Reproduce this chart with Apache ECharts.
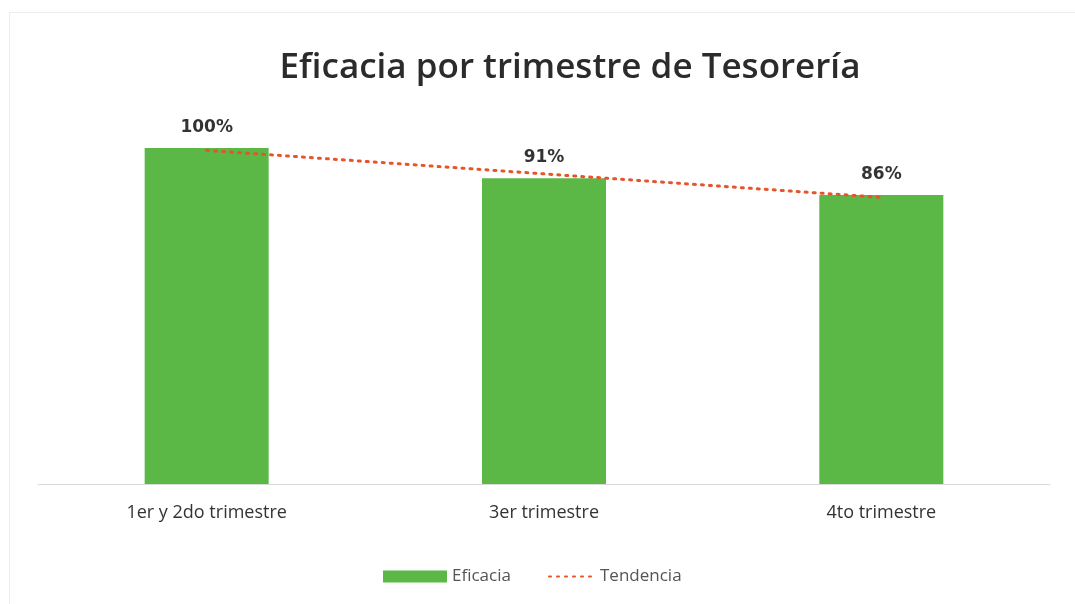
<!DOCTYPE html>
<html>
<head>
<meta charset="utf-8">
<script src="https://cdn.jsdelivr.net/npm/echarts@6/dist/echarts.min.js"></script>
<style>
  html, body { margin: 0; padding: 0; background: #fff; }
  #chart { width: 1075px; height: 604px; }
</style>
</head>
<body>
<div id="chart"></div>
<script>
var categories = ['1er y 2do trimestre', '3er trimestre', '4to trimestre'];
var eficacia = [100, 91, 86];
var tendencia = [99.3, 92.3, 85.3];

var myChart = echarts.init(document.getElementById('chart'));

var option = {
    backgroundColor: '#fff',
    // faint frame of the original chart area
    graphic: [{
        type: 'rect',
        left: 7,
        top: 10,
        shape: { width: 1080, height: 600 },
        style: { fill: 'none', stroke: '#ececec', lineWidth: 1 },
        silent: true
    }],
    title: {
        text: 'Eficacia por trimestre de Tesorería',
        left: 565,
        textAlign: 'center',
        top: 46,
        textStyle: {
            fontFamily: 'Open Sans',
            fontWeight: 600,
            fontSize: 35,
            color: '#2b2b2b'
        }
    },
    legend: [{
        left: 378,
        bottom: 14,
        itemWidth: 64,
        itemHeight: 12,
        textStyle: { fontFamily: 'Open Sans', fontSize: 17, color: '#555' },
        data: [{ name: 'Eficacia', icon: 'rect' }]
    }, {
        left: 543,
        bottom: 14,
        itemWidth: 46,
        itemHeight: 12,
        textStyle: { fontFamily: 'Open Sans', fontSize: 17, color: '#555' },
        data: [{ name: 'Tendencia', itemStyle: { opacity: 0 } }]
    }],
    grid: {
        left: 38,
        right: 25,
        top: 148,
        bottom: 120
    },
    xAxis: {
        type: 'category',
        data: categories,
        axisLine: { lineStyle: { color: '#d9d9d9', width: 1 } },
        axisTick: { show: false },
        axisLabel: {
            margin: 20,
            fontFamily: 'Open Sans',
            fontSize: 18,
            color: '#333'
        }
    },
    yAxis: {
        type: 'value',
        min: 0,
        max: 100,
        show: false,
        splitLine: { show: false }
    },
    series: [
        {
            name: 'Eficacia',
            type: 'bar',
            data: eficacia,
            barWidth: 124,
            itemStyle: { color: '#5bb847' },
            label: {
                show: true,
                position: 'top',
                distance: 12,
                formatter: '{c}%',
                fontFamily: 'DejaVu Sans',
                fontWeight: 'bold',
                fontSize: 17,
                color: '#333'
            }
        },
        {
            name: 'Tendencia',
            type: 'line',
            data: tendencia,
            symbol: 'none',
            silent: true,
            z: 5,
            lineStyle: { color: '#e8542a', width: 3, type: [2, 6], cap: 'round' },
            itemStyle: { color: '#e8542a' }
        }
    ]
};

myChart.setOption(option);
</script>
</body>
</html>
